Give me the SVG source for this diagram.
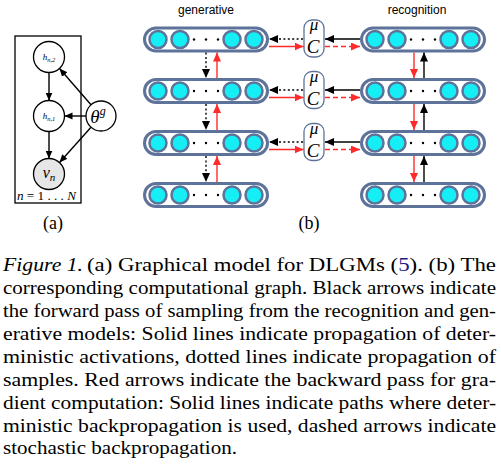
<svg xmlns="http://www.w3.org/2000/svg" xmlns:xlink="http://www.w3.org/1999/xlink" width="501" height="464" viewBox="0 0 501 464">
<style>
.cap{fill:#fff;stroke:#5e7399;stroke-width:3}
.unit{fill:#16eef6;stroke:#5e7399;stroke-width:2.5}
.box{fill:#fff;stroke:#5e7399;stroke-width:1.3}
.blk{stroke:#000;stroke-width:1.4;fill:none}
.red{stroke:#ff2a2a;stroke-width:1.4;fill:none}
.dotted{stroke-dasharray:2 2.4}
.dashed{stroke-dasharray:5 3}
.pgm{fill:#fff;stroke:#000;stroke-width:1.3}
.sans{font-family:"Liberation Sans",Arial,sans-serif;font-size:12px;fill:#000}
.serif{font-family:"Liberation Serif","Times New Roman",serif;fill:#000}
.it{font-style:italic}
.capt{font-family:"Liberation Serif","Times New Roman",serif;font-size:18px;fill:#000}
</style>
<defs>
<marker id="ma" markerUnits="userSpaceOnUse" markerWidth="9" markerHeight="8" refX="8" refY="3.5" orient="auto"><path d="M0,0 L8,3.5 L0,7 z" fill="#000"/></marker>
<marker id="mb" markerUnits="userSpaceOnUse" markerWidth="10" markerHeight="9" refX="9" refY="4" orient="auto"><path d="M0,0 L9,4 L0,8 z" fill="#000"/></marker>
<marker id="mr" markerUnits="userSpaceOnUse" markerWidth="10" markerHeight="9" refX="9" refY="4" orient="auto"><path d="M0,0 L9,4 L0,8 z" fill="#ff2a2a"/></marker>
<g id="layer">
<rect class="cap" x="-61.5" y="-11.5" width="123" height="23" rx="11.5"/>
<circle class="unit" cx="-48" cy="0" r="8.5"/>
<circle class="unit" cx="-26" cy="0" r="8.5"/>
<circle class="unit" cx="26" cy="0" r="8.5"/>
<circle class="unit" cx="48" cy="0" r="8.5"/>
<circle cx="-12" cy="0" r="1.2" fill="#000"/>
<circle cx="0" cy="0" r="1.2" fill="#000"/>
<circle cx="12" cy="0" r="1.2" fill="#000"/>
</g>
</defs>

<!-- Panel (a) -->
<rect x="15" y="36" width="66" height="167" fill="none" stroke="#000" stroke-width="1.3"/>
<g id="a-connectors">
<line class="blk" x1="49" y1="72.5" x2="49" y2="100.5" marker-end="url(#ma)"/>
<line class="blk" x1="49" y1="131.5" x2="49" y2="158.5" marker-end="url(#ma)"/>
<line class="blk" x1="91" y1="104.7" x2="59.5" y2="68.5" marker-end="url(#ma)"/>
<line class="blk" x1="86" y1="116" x2="64.5" y2="116" marker-end="url(#ma)"/>
<line class="blk" x1="91" y1="127.3" x2="59.5" y2="162.5" marker-end="url(#ma)"/>
</g>
<g id="h2"><circle class="pgm" cx="49" cy="57" r="15.5"/><text class="serif it" x="49" y="60" font-size="9" text-anchor="middle">h<tspan font-size="6.5" dy="1.5">n,2</tspan></text></g>
<g id="h1"><circle class="pgm" cx="49" cy="116" r="15.5"/><text class="serif it" x="49" y="119" font-size="9" text-anchor="middle">h<tspan font-size="6.5" dy="1.5">n,1</tspan></text></g>
<g id="vn"><circle cx="49" cy="174" r="15.5" fill="#e6e6e6" stroke="#000" stroke-width="1.3"/><text class="serif it" x="49" y="178" font-size="16" text-anchor="middle">v<tspan font-size="11" dy="3">n</tspan></text></g>
<g id="theta"><circle class="pgm" cx="101" cy="116" r="15"/><text class="serif it" x="98" y="123" font-size="19" text-anchor="middle">θ<tspan font-size="12" dy="-8">g</tspan></text></g>
<text class="serif" x="17" y="200" font-size="12" textLength="59" lengthAdjust="spacingAndGlyphs"><tspan class="it">n</tspan> = 1 . . . <tspan class="it">N</tspan></text>
<text class="serif" x="53" y="229" font-size="18" text-anchor="middle">(a)</text>

<!-- Panel (b) -->
<text class="sans" x="206" y="14" text-anchor="middle">generative</text>
<text class="sans" x="417" y="14" text-anchor="middle">recognition</text>

<g id="gen1"><use xlink:href="#layer" href="#layer" x="206" y="39.5"/></g>
<g id="gen2"><use xlink:href="#layer" href="#layer" x="206" y="91"/></g>
<g id="gen3"><use xlink:href="#layer" href="#layer" x="206" y="143"/></g>
<g id="gen4"><use xlink:href="#layer" href="#layer" x="206" y="195"/></g>
<g id="rec1"><use xlink:href="#layer" href="#layer" x="423" y="39.5"/></g>
<g id="rec2"><use xlink:href="#layer" href="#layer" x="423" y="91"/></g>
<g id="rec3"><use xlink:href="#layer" href="#layer" x="423" y="143"/></g>
<g id="rec4"><use xlink:href="#layer" href="#layer" x="423" y="195"/></g>

<g id="muC1"><rect class="box" x="304" y="20" width="20" height="37" rx="8"/><text class="serif it" x="314" y="30" font-size="17" text-anchor="middle">μ</text><text class="serif it" x="313" y="53" font-size="19" text-anchor="middle">C</text></g>
<g id="muC2"><rect class="box" x="304" y="71.5" width="20" height="37" rx="8"/><text class="serif it" x="314" y="81.5" font-size="17" text-anchor="middle">μ</text><text class="serif it" x="313" y="104.5" font-size="19" text-anchor="middle">C</text></g>
<g id="muC3"><rect class="box" x="304" y="123.5" width="20" height="37" rx="8"/><text class="serif it" x="314" y="133.5" font-size="17" text-anchor="middle">μ</text><text class="serif it" x="313" y="156.5" font-size="19" text-anchor="middle">C</text></g>

<g id="b-connectors">
<line class="blk dotted" x1="303" y1="39" x2="269" y2="39" marker-end="url(#mb)"/>
<line class="red" x1="269" y1="46.5" x2="303.5" y2="46.5" marker-end="url(#mr)"/>
<line class="blk" x1="360" y1="39" x2="325" y2="39" marker-end="url(#mb)"/>
<line class="red dashed" x1="325" y1="46.5" x2="360" y2="46.5" marker-end="url(#mr)"/>
<line class="blk dotted" x1="303" y1="90" x2="269" y2="90" marker-end="url(#mb)"/>
<line class="red" x1="269" y1="97.5" x2="303.5" y2="97.5" marker-end="url(#mr)"/>
<line class="blk" x1="360" y1="90" x2="325" y2="90" marker-end="url(#mb)"/>
<line class="red dashed" x1="325" y1="97.5" x2="360" y2="97.5" marker-end="url(#mr)"/>
<line class="blk dotted" x1="303" y1="142" x2="269" y2="142" marker-end="url(#mb)"/>
<line class="red" x1="269" y1="149.5" x2="303.5" y2="149.5" marker-end="url(#mr)"/>
<line class="blk" x1="360" y1="142" x2="325" y2="142" marker-end="url(#mb)"/>
<line class="red dashed" x1="325" y1="149.5" x2="360" y2="149.5" marker-end="url(#mr)"/>
<line class="blk dotted" x1="206" y1="52.5" x2="206" y2="78" marker-end="url(#mb)"/>
<line class="red" x1="217" y1="78" x2="217" y2="52.5" marker-end="url(#mr)"/>
<line class="blk dotted" x1="206" y1="104" x2="206" y2="130" marker-end="url(#mb)"/>
<line class="red" x1="217" y1="130" x2="217" y2="104" marker-end="url(#mr)"/>
<line class="blk dotted" x1="206" y1="156" x2="206" y2="182" marker-end="url(#mb)"/>
<line class="red" x1="217" y1="182" x2="217" y2="156" marker-end="url(#mr)"/>
<line class="red" x1="414" y1="52.5" x2="414" y2="78" marker-end="url(#mr)"/>
<line class="blk" x1="424" y1="78" x2="424" y2="52.5" marker-end="url(#mb)"/>
<line class="red" x1="414" y1="104" x2="414" y2="130" marker-end="url(#mr)"/>
<line class="blk" x1="424" y1="130" x2="424" y2="104" marker-end="url(#mb)"/>
<line class="red" x1="414" y1="156" x2="414" y2="182" marker-end="url(#mr)"/>
<line class="blk" x1="424" y1="182" x2="424" y2="156" marker-end="url(#mb)"/>
</g>
<text class="serif" x="309" y="229" font-size="18" text-anchor="middle">(b)</text>

<g id="caption" class="capt">
<text x="3" y="271" font-style="italic" textLength="80" lengthAdjust="spacingAndGlyphs">Figure 1.</text>
<text x="87" y="271" textLength="409" lengthAdjust="spacingAndGlyphs">(a) Graphical model for DLGMs (<tspan fill="#1a1a80">5</tspan>).  (b) The</text>
<text x="3" y="294" textLength="493" lengthAdjust="spacingAndGlyphs">corresponding computational graph.  Black arrows indicate</text>
<text x="3" y="317" textLength="493" lengthAdjust="spacingAndGlyphs">the forward pass of sampling from the recognition and gen-</text>
<text x="3" y="340" textLength="493" lengthAdjust="spacingAndGlyphs">erative models:  Solid lines indicate propagation of deter-</text>
<text x="3" y="362.5" textLength="493" lengthAdjust="spacingAndGlyphs">ministic activations, dotted lines indicate propagation of</text>
<text x="3" y="385.5" textLength="493" lengthAdjust="spacingAndGlyphs">samples.  Red arrows indicate the backward pass for gra-</text>
<text x="3" y="408.5" textLength="493" lengthAdjust="spacingAndGlyphs">dient computation: Solid lines indicate paths where deter-</text>
<text x="3" y="431.5" textLength="493" lengthAdjust="spacingAndGlyphs">ministic backpropagation is used, dashed arrows indicate</text>
<text x="3" y="454" textLength="234" lengthAdjust="spacingAndGlyphs">stochastic backpropagation.</text>
</g>
</svg>
